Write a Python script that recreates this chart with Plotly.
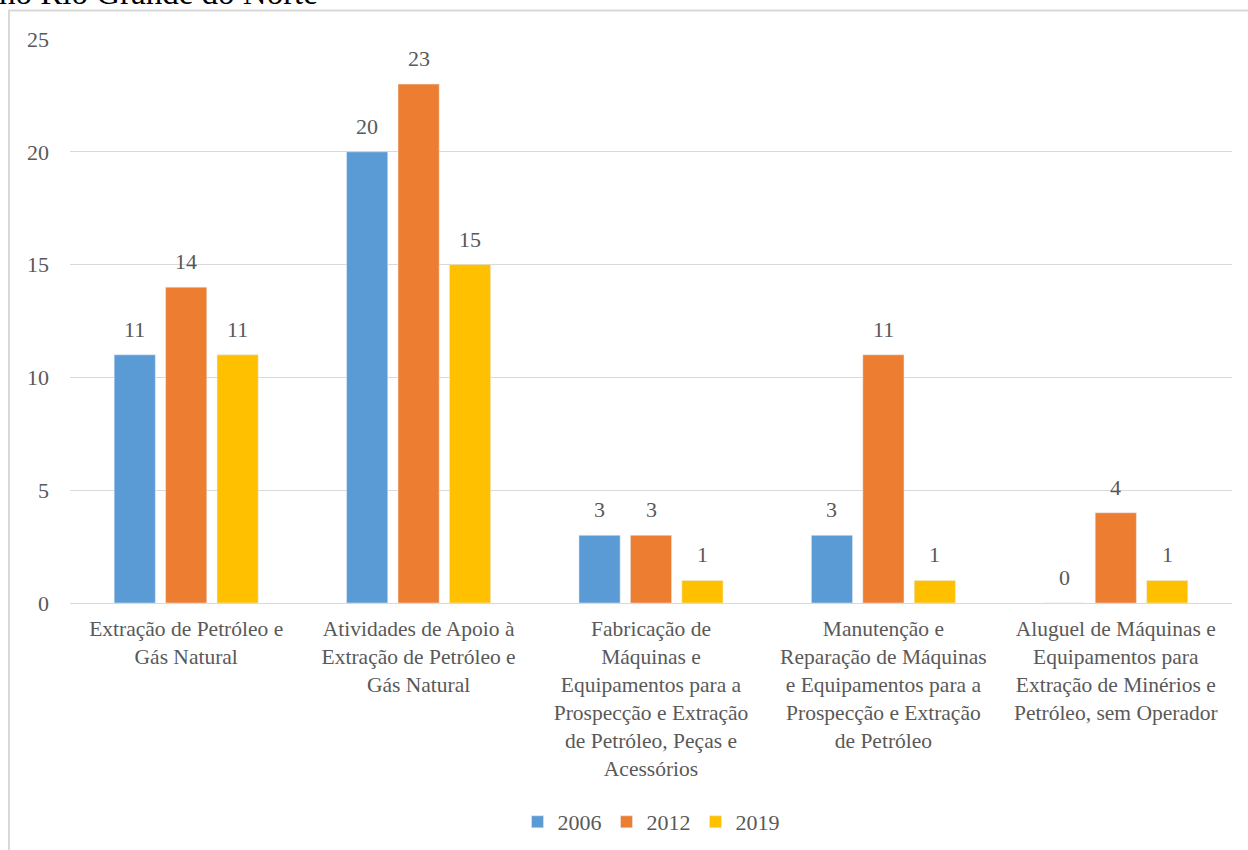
import plotly.graph_objects as go

categories = [
    "Extração de Petróleo e<br>Gás Natural",
    "Atividades de Apoio à<br>Extração de Petróleo e<br>Gás Natural",
    "Fabricação de<br>Máquinas e<br>Equipamentos para a<br>Prospecção e Extração<br>de Petróleo, Peças e<br>Acessórios",
    "Manutenção e<br>Reparação de Máquinas<br>e Equipamentos para a<br>Prospecção e Extração<br>de Petróleo",
    "Aluguel de Máquinas e<br>Equipamentos para<br>Extração de Minérios e<br>Petróleo, sem Operador",
]
values_2006 = [11, 20, 3, 3, 0]
values_2012 = [14, 23, 3, 11, 4]
values_2019 = [11, 15, 1, 1, 1]
series = [("2006", values_2006, "#5B9BD5"),
          ("2012", values_2012, "#ED7D31"),
          ("2019", values_2019, "#FFC000")]
y_ticks = [0, 5, 10, 15, 20, 25]
title_text = "no Rio Grande do Norte"

FONT = "Liberation Serif, Times New Roman, serif"
GRAY = "#595959"

L, R, T, B = 70, 16, 39, 247
W, H = 1248, 850
pw, ph = W - L - R, H - T - B
BARGAP, GROUPGAP = 0.336, 0.2
slot = pw / len(categories) * (1 - BARGAP) / len(series)

fig = go.Figure()
annotations = []
for i, (name, vals, color) in enumerate(series):
    fig.add_trace(go.Bar(x=categories, y=vals, name=name, marker_color=color))
    for cat, v in zip(categories, vals):
        annotations.append(dict(
            x=cat, y=v, xref="x", yref="y", text=str(v), showarrow=False,
            xshift=(i - (len(series) - 1) / 2) * slot, yshift=11,
            yanchor="bottom", xanchor="center",
            font=dict(family=FONT, size=22, color=GRAY)))

annotations.append(dict(
    text=title_text, xref="paper", yref="paper",
    x=(-3 - L) / pw, xanchor="left", y=1 + (T - 13) / ph, yanchor="bottom",
    showarrow=False, font=dict(family=FONT, size=33, color="black")))

fig.update_layout(
    width=W, height=H,
    margin=dict(l=L, r=R, t=T, b=B, autoexpand=False),
    paper_bgcolor="white", plot_bgcolor="white",
    barmode="group", bargap=BARGAP, bargroupgap=GROUPGAP,
    font=dict(family=FONT, size=22, color=GRAY),
    showlegend=True,
    legend=dict(orientation="h", x=0.5, xanchor="center",
                y=(603 - 822) / ph, yanchor="middle",
                font=dict(family=FONT, size=22, color=GRAY),
                itemwidth=30, traceorder="normal"),
    yaxis=dict(range=[0, 25], tickvals=y_ticks, showgrid=True,
               gridcolor="#D9D9D9", gridwidth=1, zeroline=True,
               zerolinecolor="#D9D9D9", zerolinewidth=1,
               showline=False, ticks="", ticklabelstandoff=20,
               tickfont=dict(family=FONT, size=22, color=GRAY)),
    xaxis=dict(showgrid=False, showline=True, linecolor="#D9D9D9",
               linewidth=1, ticks="", tickangle=0, ticklabelstandoff=6,
               tickfont=dict(family=FONT, size=21.5, color=GRAY)),
    shapes=[dict(type="rect", xref="paper", yref="paper",
                 x0=(9 - L) / pw, x1=(1300 - L) / pw,
                 y0=(603 - 900) / ph, y1=1 + (T - 10.5) / ph,
                 line=dict(color="#D9D9D9", width=2), layer="below")],
    annotations=annotations,
)

fig.write_html("out.html", config={"displayModeBar": False},
               post_script="document.body.style.margin='0';document.body.style.overflow='hidden';")
